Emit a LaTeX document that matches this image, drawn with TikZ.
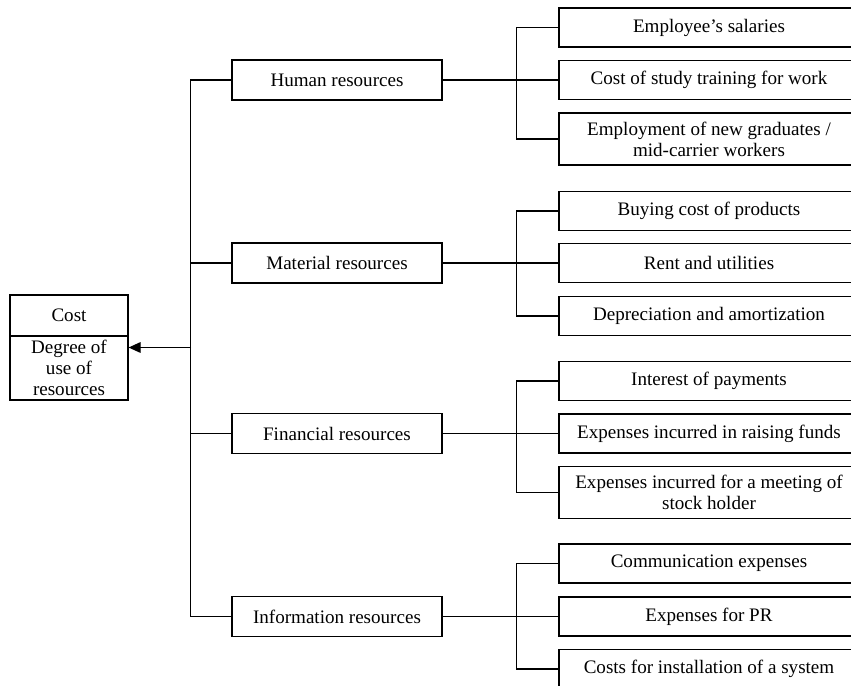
\documentclass[tikz,border=0pt]{standalone}
\usepackage{fontspec}
\setmainfont{Liberation Serif}
\usetikzlibrary{arrows.meta}
\begin{document}
\begin{tikzpicture}[x=0.75pt,y=-0.75pt,
  every node/.style={font=\fontsize{14.3}{15.8}\selectfont, align=center, inner sep=0pt},
  box/.style={draw, line width=0.9pt, minimum width=210*0.75pt, minimum height=40*0.75pt},
  item/.style={draw, line width=0.9pt, minimum width=300*0.75pt, minimum height=39*0.75pt},
  tall/.style={item, minimum height=52*0.75pt},
  link/.style={line width=0.9pt},
  ]
\path[use as bounding box, clip] (0,0) rectangle (851,686);

% cost box with its two parts
\node[draw, line width=0.9pt, minimum width=118*0.75pt, minimum height=105*0.75pt] (cost) at (69,347.5) {};
\draw[line width=0.9pt] (10,336) -- (128,336);
\node (costtitle) at (69,315.5) {Cost};
\node (costtext) at (69,368) {Degree of\\use of\\resources};

% resource groups
\node[box] (hum) at (337,80) {Human resources};
\node[box] (mat) at (337,263) {Material resources};
\node[box] (fin) at (337,433.5) {Financial resources};
\node[box] (inf) at (337,616.5) {Information resources};

% cost items
\node[item] (h1) at (709,27.5) {Employee’s salaries};
\node[item] (h2) at (709,80) {Cost of study training for work};
\node[tall] (h3) at (709,139) {Employment of new graduates /\\mid-carrier workers};

\node[item] (m1) at (709,211) {Buying cost of products};
\node[item] (m2) at (709,263) {Rent and utilities};
\node[item] (m3) at (709,316) {Depreciation and amortization};

\node[item] (f1) at (709,381) {Interest of payments};
\node[item] (f2) at (709,433.5) {Expenses incurred in raising funds};
\node[tall] (f3) at (709,492.5) {Expenses incurred for a meeting of\\stock holder};

\node[item] (i1) at (709,563.5) {Communication expenses};
\node[item] (i2) at (709,616.5) {Expenses for PR};
\node[item] (i3) at (709,669) {Costs for installation of a system};

% trunk joining the groups and the arrow to the cost box
\draw[link] (hum.west) -- ++(-41,0) |- (inf.west);
\draw[link] (mat.west) -- ++(-41,0);
\draw[link] (fin.west) -- ++(-41,0);
\coordinate (tj) at (191,347.5);
\draw[link, -{Triangle[length=9pt,width=8pt]}] (tj) -- (cost.east);

% branches from each group to its items
\foreach \g/\a/\b/\c in {hum/h1/h2/h3, mat/m1/m2/m3, fin/f1/f2/f3, inf/i1/i2/i3}{
  \draw[link] (\g.east) -- (\b.west);
  \draw[link] (\a.west) -- ++(-42,0) |- (\c.west);
}
\end{tikzpicture}
\end{document}
